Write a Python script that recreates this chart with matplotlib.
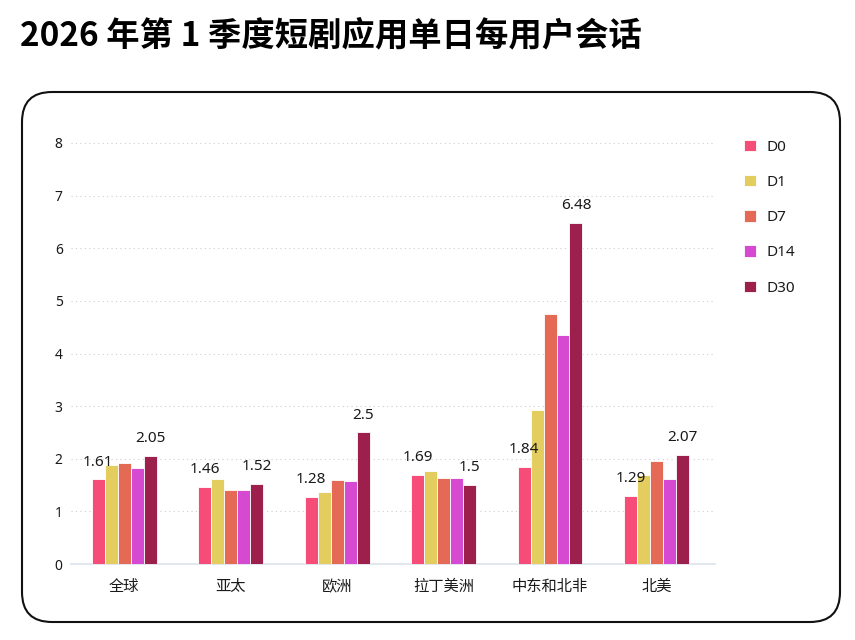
import numpy as np
import matplotlib
matplotlib.use("Agg")
import matplotlib.pyplot as plt
from matplotlib.patches import FancyBboxPatch

plt.rcParams['font.family'] = ['Noto Sans CJK SC', 'DejaVu Sans']
latin = ['Noto Sans', 'Noto Sans CJK SC']

# Data
regions = ["全球", "亚太", "欧洲", "拉丁美洲", "中东和北非", "北美"]
series = ["D0", "D1", "D7", "D14", "D30"]
d0 = [1.61, 1.46, 1.28, 1.69, 1.84, 1.29]
d1 = [1.88, 1.62, 1.37, 1.77, 2.93, 1.70]
d7 = [1.91, 1.41, 1.60, 1.64, 4.75, 1.96]
d14 = [1.82, 1.41, 1.57, 1.64, 4.35, 1.62]
d30 = [2.05, 1.52, 2.50, 1.50, 6.48, 2.07]
values = [d0, d1, d7, d14, d30]
colors = ["#F64C78", "#E3CD5E", "#E46A55", "#D54AD0", "#9C1F4C"]
yticks = [0, 1, 2, 3, 4, 5, 6, 7, 8]

fig = plt.figure(figsize=(8.55, 6.4), dpi=100)

# rounded frame around the chart (drawn behind the axes)
box = FancyBboxPatch((22 / 855, 18 / 640), 818 / 855, 530 / 640,
                     boxstyle="round,pad=0,rounding_size=0.035",
                     transform=fig.transFigure, facecolor="white",
                     edgecolor="#111111", linewidth=1.5,
                     mutation_aspect=855 / 640, zorder=-10)
fig.patches.append(box)

fig.text(20 / 855, 1 - 36 / 640, "2026 年第 1 季度短剧应用单日每用户会话",
         fontsize=24, fontweight="bold", va="center", ha="left")

ax = fig.add_axes([71 / 855, 76 / 640, 644 / 855, 421 / 640])
ax.set_facecolor("none")

x = np.arange(len(regions))
width = 0.122
for i, (name, vals) in enumerate(zip(series, values)):
    offs = (i - 2) * width
    ax.bar(x + offs, vals, width, color=colors[i], label=name,
           edgecolor="white", linewidth=0.6, zorder=3)
    if name in ("D0", "D30"):
        for xi, v in zip(x + offs, vals):
            ax.annotate("{:g}".format(v), (xi, v), xytext=(0, 7),
                        textcoords="offset points", ha="center", va="bottom",
                        fontsize=11, color="#1a1a1a", family=latin, zorder=4)

ax.set_xlim(-0.5, len(regions) - 0.45)
ax.set_ylim(0, 8)
ax.set_yticks(yticks)
ax.set_xticks(x)
ax.set_xticklabels(regions, fontsize=11)
for lab in ax.get_yticklabels():
    lab.set_family(latin)
ax.tick_params(axis="y", length=0, labelsize=10, pad=6, colors="#1a1a1a")
ax.tick_params(axis="x", length=0, pad=10, colors="#1a1a1a")
ax.grid(axis="y", linestyle=(0, (1, 3)), color="#cccccc", linewidth=0.8, zorder=0)
for s in ["top", "right", "left"]:
    ax.spines[s].set_visible(False)
ax.spines["bottom"].set_color("#dde3ec")
ax.spines["bottom"].set_linewidth(1.2)

leg = ax.legend(loc="upper left", bbox_to_anchor=(1.024, 1.04), frameon=False,
                prop={'family': latin, 'size': 11}, handlelength=0.75,
                handleheight=0.75, labelspacing=1.32, handletextpad=0.7)
for t in leg.get_texts():
    t.set_color("#1a1a1a")

fig.savefig("out.png", dpi=100)
